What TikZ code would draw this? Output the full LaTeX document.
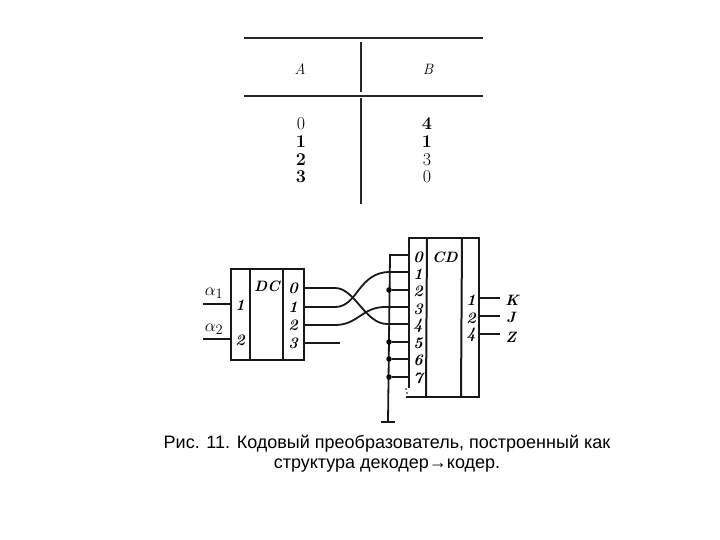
\documentclass[tikz,border=0pt]{standalone}
\usepackage{fontspec}
\newfontfamily\capfont{Liberation Sans}
\tikzset{
 x=1pt,y=-1pt,
 rule/.style={line width=1.4pt,black!85},
 box/.style={line width=2pt,black!90},
 wire/.style={line width=1.8pt,black!90},
 pin/.style={font=\fontsize{16}{16}\selectfont\bfseries\itshape,inner sep=0pt},
 blocktitle/.style={font=\fontsize{15}{15}\selectfont\bfseries\itshape,inner sep=0pt},
 tabhead/.style={font=\fontsize{15}{15}\selectfont\itshape,inner sep=0pt},
 tabnum/.style={font=\fontsize{18}{18}\selectfont\bfseries,inner sep=0pt},
 tabplain/.style={font=\fontsize{18}{18}\selectfont,inner sep=0pt},
 captext/.style={font=\capfont\fontsize{18}{22}\selectfont,inner sep=0pt,anchor=center},
 jn/.style={circle,fill=black,inner sep=0pt,minimum size=5.5pt},
 outl/.style={font=\fontsize{15}{15}\selectfont\itshape\bfseries,inner sep=0pt},
 alph/.style={font=\fontsize{19}{19}\selectfont,inner sep=0pt},
}
\begin{document}
\begin{tikzpicture}
\useasboundingbox (0,0) rectangle (720,540);
% table
\coordinate (t1l) at (244,38); \coordinate (t1r) at (483,38);
\coordinate (t2l) at (244,96); \coordinate (t2r) at (483,96);
\coordinate (v1a) at (361,42); \coordinate (v1b) at (361,92);
\coordinate (v2a) at (361,98); \coordinate (v2b) at (361,204);
\draw[rule] (t1l)--(t1r);
\draw[rule] (t2l)--(t2r);
\draw[rule] (v1a)--(v1b);
\draw[rule] (v2a)--(v2b);
\node[tabhead] (hA) at (300,69) {A};
\node[tabhead] (hB) at (428,69) {B};
\node[tabplain] (a0) at (301,124) {0};
\node[tabnum] (a1) at (301,142) {1};
\node[tabnum] (a2) at (301,160) {2};
\node[tabnum] (a3) at (301,177) {3};
\node[tabnum] (b0) at (427,124) {4};
\node[tabnum] (b1) at (427,142) {1};
\node[tabplain] (b2) at (427,160) {3};
\node[tabplain] (b3) at (427,177) {0};
% DC block
\draw[box] (231,269) rectangle (304,360);
\draw[box] (250,269)--(250,360);
\draw[box] (283,269)--(283,360);
\node[blocktitle] (dc) at (267,286) {DC};
\node[pin] (i1) at (240,305) {1};
\node[pin] (i2) at (240,340) {2};
\node[pin] (o0) at (293,288) {0};
\node[pin] (o1) at (293,307) {1};
\node[pin] (o2) at (293,325) {2};
\node[pin] (o3) at (293,343) {3};
\node[alph] (al1) at (214,293) {$\alpha_1$};
\node[alph] (al2) at (214,329) {$\alpha_2$};
\coordinate (inA) at (203,304); \coordinate (inAe) at (231,304);
\coordinate (inB) at (203,339); \coordinate (inBe) at (231,339);
\draw[wire] (inA)--(inAe);
\draw[wire] (inB)--(inBe);
% CD block
\draw[box] (409,388)--(409,238)--(479,238)--(479,397)--(406,397);
\draw[box] (427,238)--(426,397);
\draw[box] (462,238)--(461,397);
\fill (406,389) circle (.8) (407,393) circle (.8);
\node[blocktitle] (cd) at (445,257) {CD};
\foreach \n/\y in {0/257,1/274,2/291,3/309,4/326,5/343,6/360,7/378}
  \node[pin] (c\n) at (418,\y) {\n};
\node[pin] (r1) at (471,300) {1};
\node[pin] (r2) at (471,318) {2};
\node[pin] (r4) at (471,335) {4};
\node[outl] (K) at (512,300) {K};
\node[outl] (J) at (511,317) {J};
\node[outl] (Z) at (511,337) {Z};
\coordinate (ok) at (479,298); \coordinate (okE) at (500,298);
\coordinate (oj) at (479,316); \coordinate (ojE) at (500,316);
\coordinate (oz) at (479,334); \coordinate (ozE) at (500,334);
\draw[wire] (ok)--(okE);
\draw[wire] (oj)--(ojE);
\draw[wire] (oz)--(ozE);
% bus
\coordinate (in0) at (409,255);
\coordinate (b0c) at (390,255);
\coordinate (gnd) at (388,422);
\coordinate (gl) at (381,422); \coordinate (gr) at (395,422);
\draw[wire] (in0)--(b0c)--(gnd);
\draw[wire] (gl)--(gr);
\foreach \n/\y in {2/290,5/342,6/359,7/377}{
  \coordinate (in\n) at (409,\y);
  \node[jn] (j\n) at (389,\y) {};
  \draw[wire] (j\n)--(in\n);
}
% crossings
\coordinate (d0) at (304,288); \coordinate (d1) at (304,307);
\coordinate (d2) at (304,325); \coordinate (d3) at (304,343);
\coordinate (d3e) at (340,343);
\coordinate (in1) at (409,272); \coordinate (in3) at (409,307); \coordinate (in4) at (409,324);
\draw[wire] (d0)--(335,288) .. controls (355,288) and (365,324) .. (387,324) -- (in4);
\draw[wire] (d1)--(335,307) .. controls (358,307) and (358,272) .. (390,272) -- (in1);
\draw[wire] (d2)--(335,325) .. controls (358,325) and (362,307) .. (385,307) -- (in3);
\draw[wire] (d3)--(d3e);
% caption
\node[captext] (cap1) at (387,444) {Рис. 11. Кодовый преобразователь, построенный как};
\node[captext] (cap2) at (387,466) {структура декодер→кодер.};
\end{tikzpicture}
\end{document}
